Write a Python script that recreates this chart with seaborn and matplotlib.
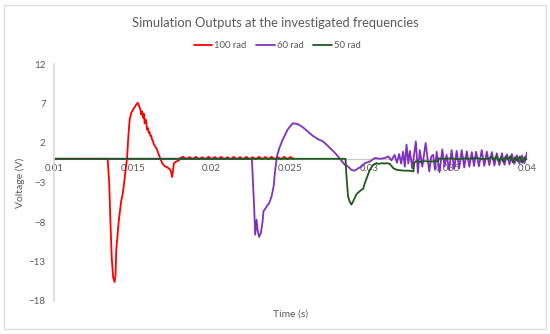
import pandas as pd
import seaborn as sns
import matplotlib.pyplot as plt
from matplotlib.patches import Rectangle

series_names = ['100 rad', '60 rad', '50 rad']
series_colors = ['#ff0000', '#7f30bf', '#1c5a1c']

x_ticks = [0.01, 0.015, 0.02, 0.025, 0.03, 0.035, 0.04]
x_tick_labels = ['0.01', '0.015', '0.02', '0.025', '0.03', '0.035', '0.04']
y_ticks = [-18, -13, -8, -3, 2, 7, 12]

# 100 rad - main transient, then small ripple up to ~0.025
red_t = [0.0100, 0.01340, 0.01350, 0.01358, 0.01366, 0.01375, 0.01384, 0.01390, 0.01395,
         0.01410, 0.01425, 0.01437, 0.01448, 0.01454, 0.01463, 0.01472, 0.01480, 0.01490,
         0.01500, 0.01510, 0.01520, 0.01531, 0.01540, 0.01548, 0.01553, 0.01559, 0.01565,
         0.01570, 0.01575, 0.01580, 0.01584, 0.01590, 0.01596, 0.01601, 0.01606, 0.01611,
         0.01617, 0.01622, 0.01627, 0.01632, 0.01640, 0.01648, 0.01658, 0.01667, 0.01675,
         0.01685, 0.01696, 0.01707, 0.01718, 0.01726, 0.01734, 0.01740, 0.01745, 0.01750,
         0.01755, 0.01760, 0.01770, 0.01777, 0.01785, 0.01792, 0.01800,
         0.0182, 0.0184, 0.0186, 0.0188, 0.0190, 0.0192, 0.0194, 0.0196, 0.0198, 0.0200,
         0.0202, 0.0204, 0.0206, 0.0208, 0.0210, 0.0212, 0.0214, 0.0216, 0.0218, 0.0220,
         0.0222, 0.0224, 0.0226, 0.0228, 0.0230, 0.0232, 0.0234, 0.0236, 0.0238, 0.0240,
         0.0242, 0.0244, 0.0246, 0.0248, 0.0250, 0.0252]
red_v = [0.0, 0.0, -3.0, -8.0, -12.5, -15.0, -15.6, -14.8, -11.5,
         -8.0, -5.5, -4.3, -2.5, -1.4, 0.0, 3.0, 5.0, 5.8,
         6.2, 6.5, 6.8, 7.1, 6.7, 6.2, 5.6, 6.0, 5.2,
         5.7, 4.5, 5.0, 4.8, 3.7, 3.9, 3.3, 3.4, 2.9,
         2.9, 2.4, 2.3, 1.9, 1.6, 1.4, 0.9, 0.4, 0.0,
         -0.5, -0.8, -1.0, -1.05, -1.2, -1.3, -1.5, -1.9, -2.3,
         -1.4, -0.6, -0.4, -0.35, -0.25, -0.2, 0.1,
         0.25, -0.05, 0.22, -0.05, 0.25, -0.05, 0.2, -0.05, 0.25, -0.05,
         0.22, -0.05, 0.25, -0.05, 0.2, -0.05, 0.25, -0.05, 0.22, -0.05,
         0.25, -0.05, 0.2, -0.05, 0.25, -0.05, 0.22, -0.05, 0.25, -0.05,
         0.2, -0.05, 0.25, -0.05, 0.22, 0.0]

# 60 rad
purple_t = [0.0100, 0.02255, 0.02262, 0.02270, 0.02276, 0.02285, 0.02291, 0.02301, 0.02312,
            0.02322, 0.02329, 0.02337, 0.02350, 0.02365, 0.02380, 0.02393, 0.02403, 0.02414,
            0.02429, 0.02450, 0.02482, 0.02514, 0.02546, 0.02578, 0.02610, 0.02642, 0.02674,
            0.02706, 0.02737, 0.02758, 0.02780, 0.02801, 0.02822, 0.02844, 0.02865, 0.02886,
            0.02907, 0.02929, 0.02950, 0.02971, 0.03003, 0.03035, 0.03067, 0.03099,
            0.03120, 0.03140, 0.03160, 0.03175, 0.03189, 0.03202, 0.03214, 0.03225, 0.03236,
            0.03247, 0.03257, 0.03272, 0.03295, 0.03308, 0.03320, 0.03336, 0.03357, 0.03380,
            0.03393, 0.03405, 0.03416, 0.03427, 0.03445, 0.03463, 0.03477, 0.03490, 0.03506,
            0.03522, 0.03538, 0.03554, 0.03570, 0.03586, 0.03602, 0.03618, 0.03634, 0.03650,
            0.03664, 0.03677, 0.03695, 0.03713, 0.03729, 0.03745, 0.03761, 0.03777, 0.03793,
            0.03809, 0.03825, 0.03841, 0.03857, 0.03873, 0.03889, 0.03904, 0.03920, 0.03936,
            0.03952, 0.03968, 0.03984, 0.04000]
purple_v = [0.0, 0.0, -3.0, -6.4, -9.6, -7.7, -9.0, -9.9, -9.4,
            -8.1, -6.6, -6.4, -6.0, -5.6, -4.75, -3.5, -1.4, 0.3,
            1.35, 2.4, 3.7, 4.5, 4.4, 4.0, 3.45, 2.9, 2.5,
            2.2, 1.64, 1.2, 0.8, 0.3, -0.2, -0.76, -0.97, -1.4,
            -1.5, -1.2, -1.0, -0.55, -0.35, 0.1, 0.0, 0.1,
            0.3, -0.2, 0.5, -0.5, 0.6, -0.6, 0.9, -1.0, 1.8,
            -0.6, 1.0, -1.2, 2.2, -1.8, 1.1, -1.0, 2.0, -1.6,
            0.3, 0.5, -1.4, 0.9, -1.7, 1.2, -1.0, 0.5, -1.4,
            1.1, -1.3, 1.0, -1.2, 1.1, -1.1, 0.95, -1.0, 0.85,
            -0.9, 0.9, -0.95, 1.1, -0.9, 0.9, -0.8, 0.85, -0.85,
            0.7, -0.8, 0.7, -0.75, 0.55, -0.7, 0.6, -0.65, 0.45,
            -0.6, 0.4, -0.55, 0.8]

# 50 rad
green_t = [0.0100, 0.02849, 0.02855, 0.02865, 0.02875, 0.02886, 0.02897, 0.02918, 0.02939,
           0.02961, 0.02971, 0.02988, 0.03003, 0.03025, 0.03046, 0.03060, 0.03078, 0.03095,
           0.03110, 0.03130, 0.03153, 0.03174, 0.03195, 0.03220, 0.03250, 0.03280, 0.03284,
           0.03295, 0.03320, 0.03350, 0.03390, 0.03420, 0.03438, 0.03440, 0.03480, 0.03520,
           0.03560, 0.03600, 0.03640, 0.03680, 0.03720, 0.03760, 0.03775, 0.03790, 0.03805,
           0.03820, 0.03835, 0.03850, 0.03865, 0.03880, 0.03895, 0.03910, 0.03925, 0.03940,
           0.03955, 0.03970, 0.03985, 0.04000]
green_v = [0.0, 0.0, -2.2, -4.75, -5.4, -5.8, -5.4, -4.5, -4.1,
           -3.8, -3.1, -2.2, -1.4, -0.76, -0.55, -0.65, -0.55, -0.6,
           -0.55, -0.65, -1.2, -1.4, -1.45, -1.5, -1.5, -1.6, -0.55,
           -0.3, -0.4, -0.3, -0.35, -0.3, -0.3, 0.05, 0.0, 0.05,
           -0.05, 0.05, 0.0, 0.1, -0.05, 0.05, 0.3, -0.2, 0.35,
           -0.3, 0.2, -0.4, 0.3, -0.1, 0.35, -0.45, 0.2, -0.3,
           0.3, -0.5, 0.2, -0.1]

df = pd.concat([
    pd.DataFrame({'Time': red_t, 'Voltage': red_v, 'Series': series_names[0]}),
    pd.DataFrame({'Time': purple_t, 'Voltage': purple_v, 'Series': series_names[1]}),
    pd.DataFrame({'Time': green_t, 'Voltage': green_v, 'Series': series_names[2]}),
], ignore_index=True)

sns.set_theme(style='white')
plt.rcParams['font.family'] = ['Lato', 'DejaVu Sans']
gray = '#595959'

fig = plt.figure(figsize=(5.5, 3.34), dpi=100)
ax = fig.add_axes([54 / 550, 1 - 301 / 334, (527 - 54) / 550, (301 - 64) / 334])

sns.lineplot(data=df, x='Time', y='Voltage', hue='Series', hue_order=series_names,
             palette=series_colors, estimator=None, sort=False, linewidth=1.3, ax=ax)

ax.set_xlim(0.01, 0.04)
ax.set_ylim(-18, 12)
ax.set_xticks(x_ticks)
ax.set_xticklabels(x_tick_labels)
ax.set_yticks(y_ticks)

for s in ['top', 'right']:
    ax.spines[s].set_visible(False)
ax.spines['left'].set_color('#d9d9d9')
ax.spines['bottom'].set_position(('data', 0))
ax.spines['bottom'].set_color('#c8c8c8')
ax.spines['bottom'].set_linewidth(0.8)
ax.spines['bottom'].set_zorder(1)
ax.tick_params(length=0, labelsize=7, labelcolor=gray)
ax.tick_params(axis='x', pad=4)
ax.tick_params(axis='y', pad=6)

ax.set_xlabel('Time (s)', fontsize=7.5, color=gray)
ax.set_ylabel('Voltage (V)', fontsize=7.5, color=gray)
ax.xaxis.set_label_coords(0.5, -0.035)
ax.yaxis.set_label_coords(-0.062, 0.5)

fig.text(275 / 550, 1 - 23 / 334, 'Simulation Outputs at the investigated frequencies',
         ha='center', va='center', fontsize=9.3, color=gray)

handles, labels = ax.get_legend_handles_labels()
ax.legend(handles, labels, loc='center', bbox_to_anchor=(277 / 550, 1 - 46 / 334),
          bbox_transform=fig.transFigure, ncol=3, frameon=False, fontsize=6.8,
          handlelength=2.0, handletextpad=0.2, columnspacing=1.0, labelcolor=gray)

fig.patches.append(Rectangle((4 / 550, 5 / 334), 542 / 550, 324 / 334, transform=fig.transFigure,
                             fill=False, edgecolor='#d9d9d9', linewidth=0.8))

fig.savefig('out.png', dpi=100)
